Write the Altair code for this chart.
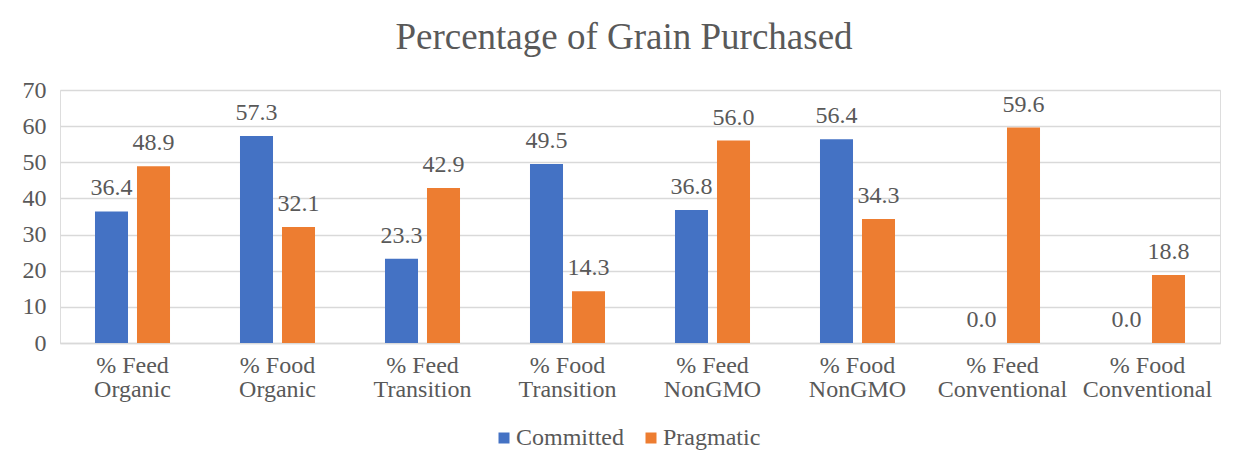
import altair as alt
import pandas as pd

categories = [
    "% Feed\nOrganic", "% Food\nOrganic", "% Feed\nTransition", "% Food\nTransition",
    "% Feed\nNonGMO", "% Food\nNonGMO", "% Feed\nConventional", "% Food\nConventional",
]
series = ["Committed", "Pragmatic"]
committed = [36.4, 57.3, 23.3, 49.5, 36.8, 56.4, 0.0, 0.0]
pragmatic = [48.9, 32.1, 42.9, 14.3, 56.0, 34.3, 59.6, 18.8]
y_ticks = [0, 10, 20, 30, 40, 50, 60, 70]
colors = ["#4472C4", "#ED7D31"]

rows = []
for c, a, b in zip(categories, committed, pragmatic):
    rows.append({"cat": c, "series": series[0], "value": a})
    rows.append({"cat": c, "series": series[1], "value": b})
df = pd.DataFrame(rows)

FONT = "Liberation Serif"
TXT = "#595959"

x = alt.X("cat:N", sort=categories, title=None,
          scale=alt.Scale(paddingInner=0, paddingOuter=0),
          axis=alt.Axis(labelAngle=0, labelExpr="split(datum.value, '\\n')",
                        labelFont=FONT, labelFontSize=24, labelColor=TXT,
                        labelLineHeight=24, labelPadding=10, ticks=False,
                        domain=True, domainColor="#D9D9D9", domainWidth=1.5,
                        labelBaseline="top", labelOverlap=False))
xo = alt.XOffset("series:N", sort=series,
                 scale=alt.Scale(paddingInner=0.214, paddingOuter=0.833))
y = alt.Y("value:Q", title=None,
          scale=alt.Scale(domain=[0, 70], nice=False),
          axis=alt.Axis(values=y_ticks, ticks=False, domain=False,
                        labelFont=FONT, labelFontSize=24, labelColor=TXT, labelPadding=14,
                        gridColor="#D9D9D9", gridWidth=1.3, format="d",
                        labelOverlap=False, labelFlush=False))

bars = alt.Chart(df).mark_bar().encode(
    x=x, xOffset=xo, y=y,
    color=alt.Color("series:N", sort=series,
                    scale=alt.Scale(domain=series, range=colors),
                    legend=alt.Legend(title=None, orient="none", direction="horizontal",
                                      legendX=432, legendY=336, symbolType="square",
                                      symbolSize=121, symbolStrokeWidth=0,
                                      labelFont=FONT, labelFontSize=24, labelColor=TXT,
                                      labelOffset=0, columnPadding=15, padding=0)),
)

labels = alt.Chart(df).mark_text(
    font=FONT, fontSize=24, color=TXT, baseline="alphabetic", dy=-16
).encode(
    x=x, xOffset=xo, y=y,
    text=alt.Text("value:Q", format=".1f"),
)

chart = alt.layer(bars, labels).properties(
    width=1160, height=253,
    title=alt.TitleParams("Percentage of Grain Purchased", font=FONT, fontSize=37,
                          fontWeight="normal", color=TXT, anchor="middle",
                          baseline="alphabetic", offset=2, dx=-16, dy=10),
    autosize=alt.AutoSizeParams(type="none"),
    padding={"left": 52, "top": 82, "right": 21, "bottom": 120},
).configure_view(strokeWidth=0).configure(background="white", font=FONT)

chart.save("out.html", embed_options={"renderer": "svg", "actions": False})
